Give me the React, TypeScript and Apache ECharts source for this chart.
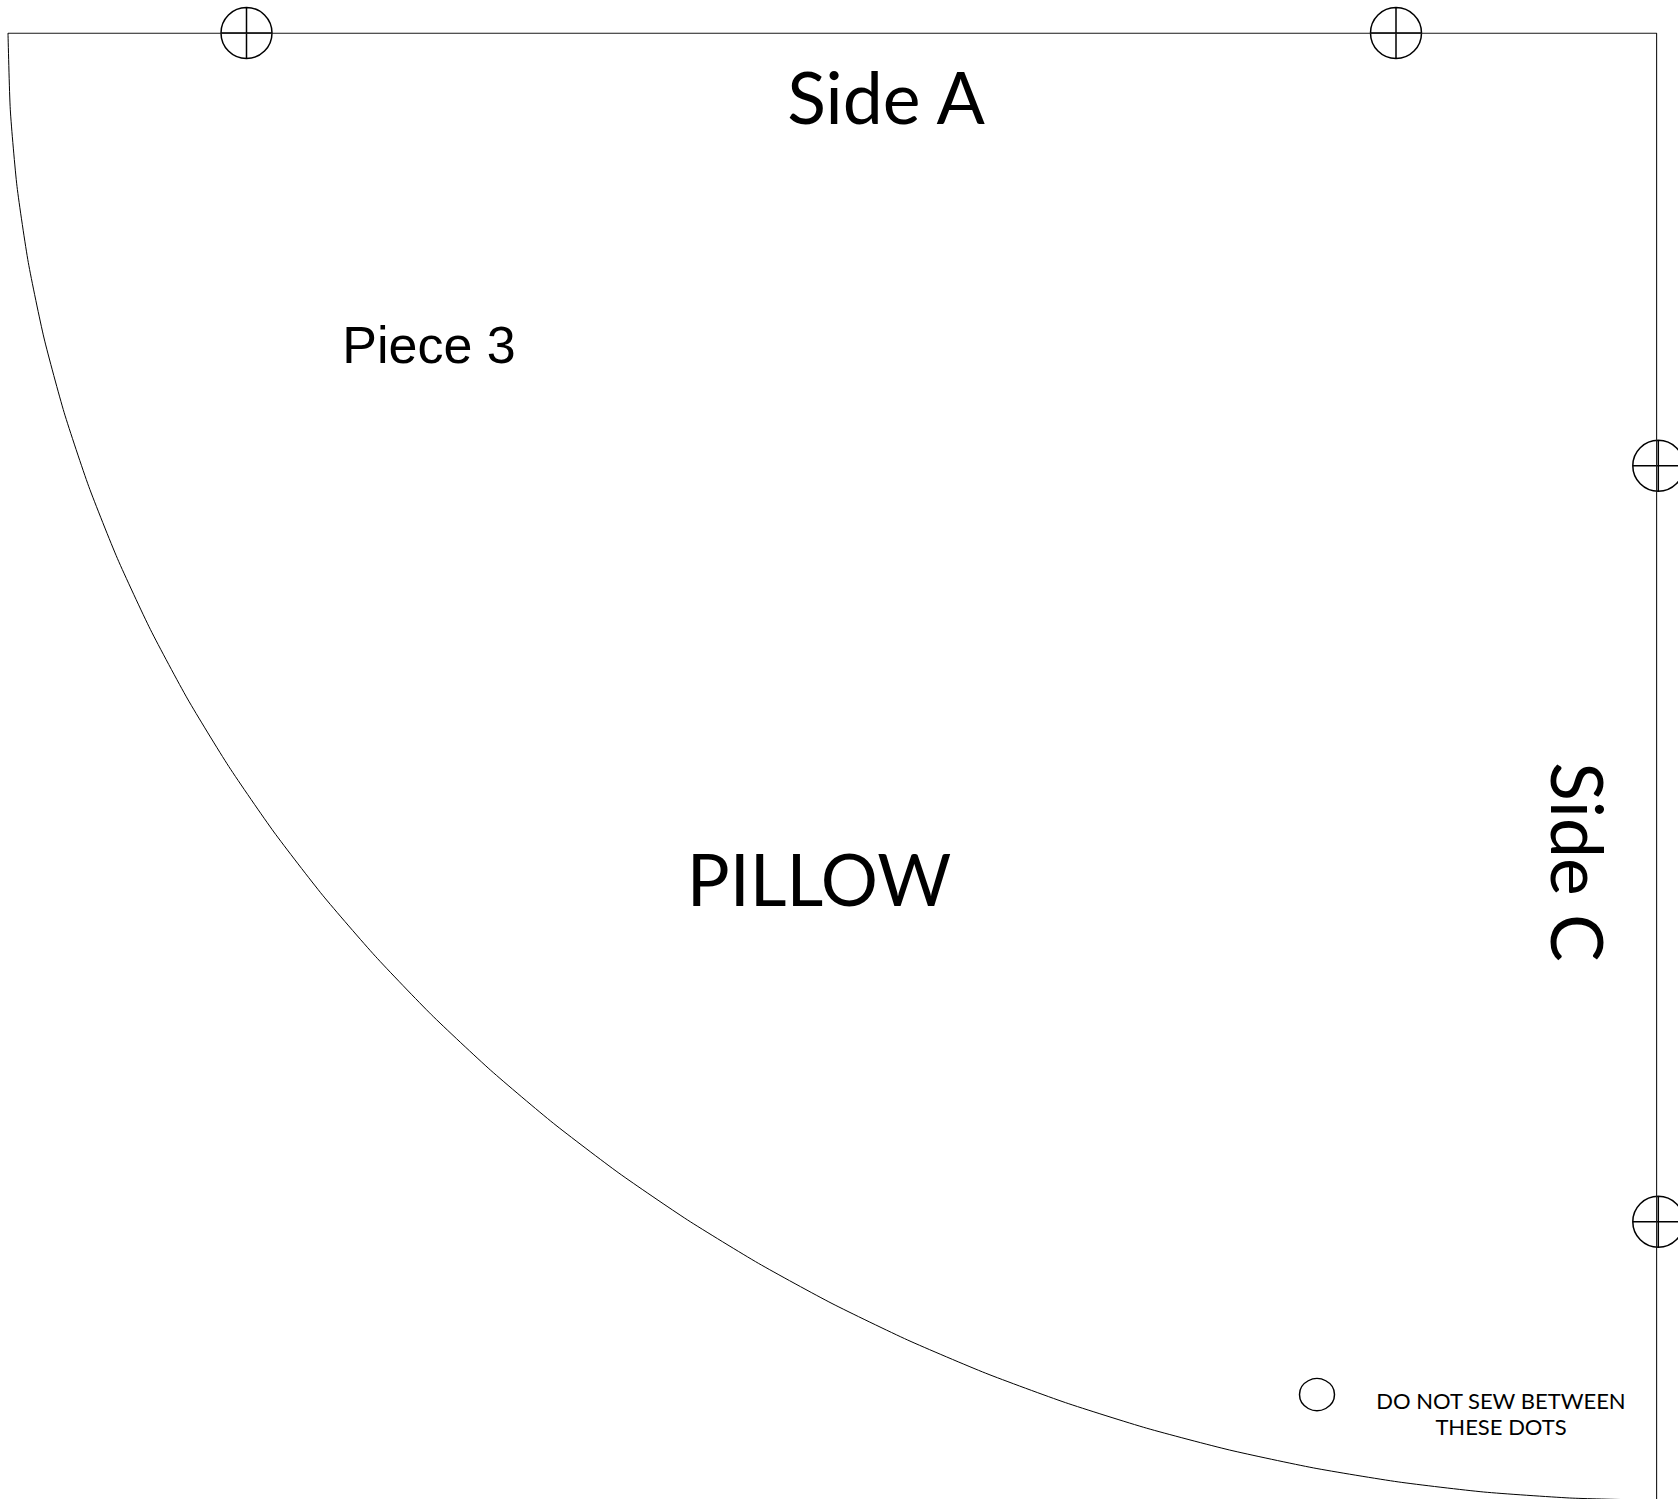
import React, { useEffect, useRef } from "react";
import * as echarts from "echarts";

const WIDTH = 1678;
const HEIGHT = 1499;

// Seam curve of the pillow piece
const arcX = [8, 10.3, 17, 28.3, 44, 64.2, 88.7, 117.5, 150.5, 187.6, 228.8, 273.9, 322.7, 375.3, 431.3, 490.7, 553.3, 618.9, 687.3, 758.4, 832, 907.8, 985.7, 1065.4, 1146.7, 1229.5, 1313.4, 1398.2, 1483.7, 1569.7, 1625];
const arcY = [33, 109.8, 186.4, 262.5, 338, 412.7, 486.3, 558.7, 629.7, 699, 766.5, 832, 895.3, 956.2, 1014.6, 1070.3, 1123.2, 1173.1, 1219.8, 1263.3, 1303.5, 1340.1, 1373.2, 1402.6, 1428.2, 1450, 1467.9, 1481.9, 1492, 1498, 1499.6];

// Straight sides of the piece
const frameX = [8, 1656.6, 1656.6];
const frameY = [33.3, 33.3, 1499];

// Registration marks
const markX = [246.5, 1396, 1658.3, 1658.3];
const markY = [33, 33, 465.8, 1221.8];

// The "do not sew" dot
const dotX = [1317];
const dotY = [1394.6];

const pair = (xs: number[], ys: number[]) => xs.map((x, i) => [x, ys[i]]);

const TITLE_SIDE_A = "Side A";
const TITLE_SIDE_C = "Side C";
const TITLE_PIECE = "Piece 3";
const TITLE_NAME = "PILLOW";
const NOTE = "DO NOT SEW BETWEEN\nTHESE DOTS";

export default function App() {
  const ref = useRef<HTMLDivElement>(null);
  useEffect(() => {
    const chart = echarts.init(ref.current!, undefined, { renderer: "svg" });
    const lato = "Lato, sans-serif";
    chart.setOption({
      animation: false,
      backgroundColor: "#ffffff",
      grid: { left: 0, right: 0, top: 0, bottom: 0 },
      xAxis: { type: "value", min: 0, max: WIDTH, show: false },
      yAxis: { type: "value", min: 0, max: HEIGHT, inverse: true, show: false },
      tooltip: { show: false },
      series: [
        {
          type: "line",
          data: pair(frameX, frameY),
          symbol: "none",
          silent: true,
          lineStyle: { color: "#1a1a1a", width: 1.1 },
        },
        {
          type: "line",
          data: pair(arcX, arcY),
          symbol: "none",
          smooth: 0.2,
          silent: true,
          lineStyle: { color: "#000000", width: 1 },
        },
        {
          type: "scatter",
          data: pair(markX, markY),
          symbol: "path://M0 25A25 25 0 1 1 50 25A25 25 0 1 1 0 25ZM25 0L25 50M0 25L50 25",
          symbolSize: 51,
          silent: true,
          itemStyle: { color: "none", borderColor: "#000000", borderWidth: 1.5, opacity: 1 },
        },
        {
          type: "scatter",
          data: pair(dotX, dotY),
          symbol: "circle",
          symbolSize: [35, 32],
          silent: true,
          itemStyle: { color: "none", borderColor: "#000000", borderWidth: 1.4, opacity: 1 },
        },
      ],
      graphic: [
        { type: "text", x: 886, y: 95.5, style: { text: TITLE_SIDE_A, font: `71.5px ${lato}`, fill: "#000", align: "center", verticalAlign: "middle" } },
        { type: "text", x: 819, y: 878, style: { text: TITLE_NAME, font: `71.5px ${lato}`, fill: "#000", align: "center", verticalAlign: "middle" } },
        { type: "text", x: 429, y: 345, style: { text: TITLE_PIECE, font: `52px "Liberation Sans", Arial, sans-serif`, fill: "#000", align: "center", verticalAlign: "middle" } },
        { type: "text", x: 1578.5, y: 862, rotation: -Math.PI / 2, style: { text: TITLE_SIDE_C, font: `71.5px ${lato}`, fill: "#000", align: "center", verticalAlign: "middle" } },
        { type: "text", x: 1501, y: 1413.5, style: { text: NOTE, font: `22px ${lato}`, fill: "#000", align: "center", verticalAlign: "middle", lineHeight: 26 } },
      ],
    });
    return () => chart.dispose();
  }, []);
  return <div ref={ref} style={{ position: "absolute", left: 0, top: 0, width: WIDTH, height: HEIGHT }} />;
}
